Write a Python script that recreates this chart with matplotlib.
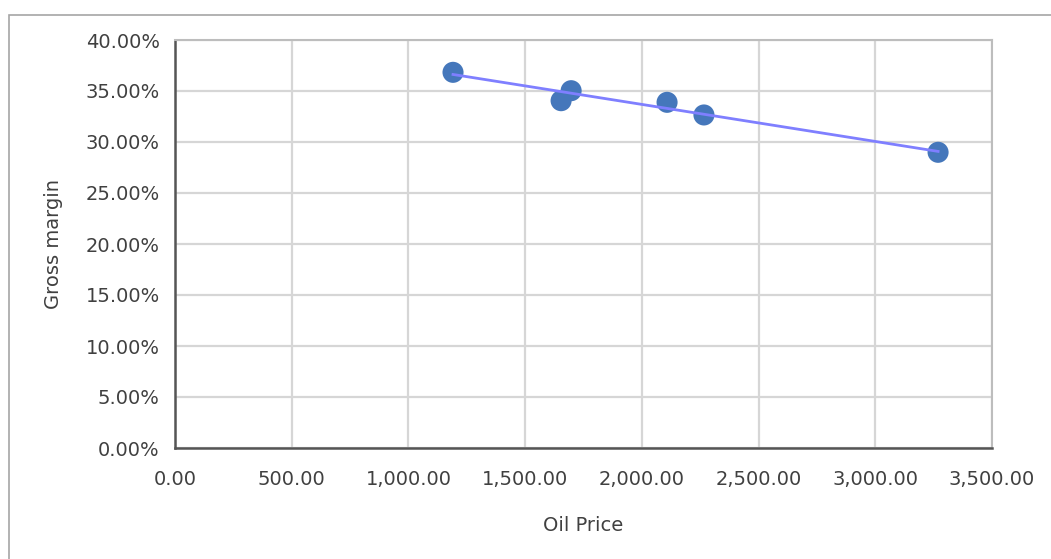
import numpy as np
import matplotlib
matplotlib.use("Agg")
import matplotlib.pyplot as plt
from matplotlib.patches import Rectangle
from matplotlib.ticker import FuncFormatter, MultipleLocator

# values
oil_price = [1191, 1697, 1654, 2108, 2266, 3269]
gross_margin = [0.3683, 0.3503, 0.3405, 0.3389, 0.3265, 0.2899]

x_label = "Oil Price"
y_label = "Gross margin"

text_color = "#404040"

fig = plt.figure(figsize=(10.51, 5.59), dpi=100)
ax = fig.add_axes([175 / 1051, 1 - 448 / 559, 817 / 1051, 408 / 559])

# chart area border (cut on right and bottom in the reference)
fig.patches.append(Rectangle((9 / 1051, -0.05), 1.2, 1.05 - 15 / 559,
                             transform=fig.transFigure, fill=False,
                             edgecolor="#a6a6a6", lw=1.2))

ax.scatter(oil_price, gross_margin, s=230, color="#4577bb", zorder=3,
           edgecolors="none")

# linear trendline
k, b = np.polyfit(oil_price, gross_margin, 1)
xs = np.array([min(oil_price), max(oil_price)])
ax.plot(xs, k * xs + b, color="#7f7fff", lw=2, zorder=4)

ax.set_xlim(0, 3500)
ax.set_ylim(0, 0.40)
ax.xaxis.set_major_locator(MultipleLocator(500))
ax.yaxis.set_major_locator(MultipleLocator(0.05))
ax.xaxis.set_major_formatter(FuncFormatter(lambda v, p: f"{v:,.2f}"))
ax.yaxis.set_major_formatter(FuncFormatter(lambda v, p: f"{v * 100:.2f}%"))

ax.grid(True, color="#d6d6d6", lw=1.6)
ax.set_axisbelow(True)
ax.tick_params(length=0, labelsize=14, colors=text_color)
ax.tick_params(axis="x", pad=16)
ax.tick_params(axis="y", pad=11)

for side in ["top", "right"]:
    ax.spines[side].set_color("#bdbdbd")
    ax.spines[side].set_linewidth(1.5)
for side in ["left", "bottom"]:
    ax.spines[side].set_color("#555555")
    ax.spines[side].set_linewidth(1.8)

ax.set_xlabel(x_label, fontsize=14, color=text_color, labelpad=19)
ax.set_ylabel(y_label, fontsize=14, color=text_color, labelpad=16)

fig.savefig("out.png", dpi=100)
